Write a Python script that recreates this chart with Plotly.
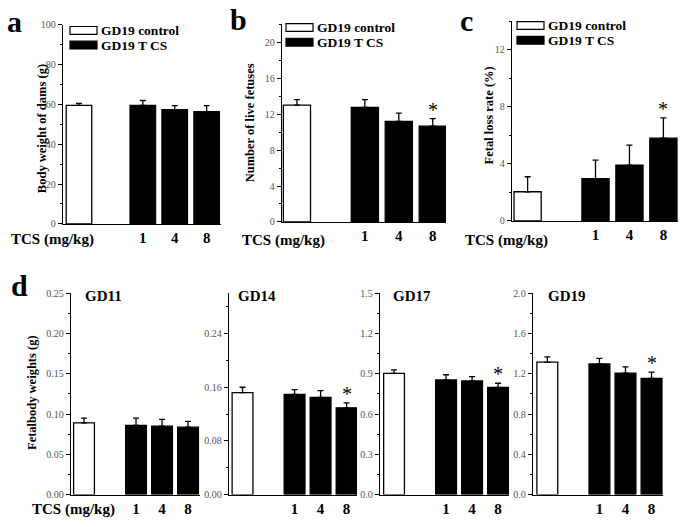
import plotly.graph_objects as go

W, H = 685, 527

# ---------------- data ----------------
dose_labels = ["1", "4", "8"]
control_pos = [0]
dose_pos = [2, 3, 4]

# a: body weight of dams (g)
a_ctrl, a_ctrl_err = [59.5], [1.0]
a_tcs, a_tcs_err = [59.5, 57.3, 56.3], [2.4, 2.0, 3.0]
# b: number of live fetuses
b_ctrl, b_ctrl_err = [13.0], [0.6]
b_tcs, b_tcs_err = [12.75, 11.2, 10.65], [0.85, 0.9, 0.85]
# c: fetal loss rate (%)
c_ctrl, c_ctrl_err = [2.05], [1.05]
c_tcs, c_tcs_err = [2.96, 3.92, 5.8], [1.3, 1.4, 1.42]
# d: fetal body weights (g)
gd11_ctrl, gd11_ctrl_err = [0.089], [0.006]
gd11_tcs, gd11_tcs_err = [0.086, 0.085, 0.0837], [0.009, 0.0085, 0.0073]
gd14_ctrl, gd14_ctrl_err = [0.152], [0.008]
gd14_tcs, gd14_tcs_err = [0.1493, 0.145, 0.1294], [0.0073, 0.010, 0.0073]
gd17_ctrl, gd17_ctrl_err = [0.903], [0.027]
gd17_tcs, gd17_tcs_err = [0.854, 0.847, 0.799], [0.039, 0.032, 0.031]
gd19_ctrl, gd19_ctrl_err = [1.317], [0.052]
gd19_tcs, gd19_tcs_err = [1.298, 1.207, 1.155], [0.055, 0.062, 0.062]

SERIF = "Liberation Serif"

panels = [
    dict(x0=63, x1=221, yt=19, yb=223, yr=[0, 100], dt=20, mn=10, fmt="d",
         ctrl=a_ctrl, ce=a_ctrl_err, tcs=a_tcs, te=a_tcs_err, star=False, xr=[-0.5, 4.45]),
    dict(x0=282, x1=446, yt=18.6, yb=221, yr=[0, 22], dt=4, mn=2, fmt="d",
         ctrl=b_ctrl, ce=b_ctrl_err, tcs=b_tcs, te=b_tcs_err, star=True, xr=[-0.44, 4.39]),
    dict(x0=512, x1=678, yt=15.5, yb=220, yr=[0, 14], dt=4, mn=2, fmt="d",
         ctrl=c_ctrl, ce=c_ctrl_err, tcs=c_tcs, te=c_tcs_err, star=True, xr=[-0.46, 4.43]),
    dict(x0=71, x1=200, yt=294, yb=500, yr=[0, 0.25], dt=0.05, mn=0.025, fmt=".2f",
         ctrl=gd11_ctrl, ce=gd11_ctrl_err, tcs=gd11_tcs, te=gd11_tcs_err, star=False, xr=[-0.5, 4.46]),
    dict(x0=229, x1=357, yt=294, yb=500, yr=[0, 0.30], dt=0.08, mn=0.04, fmt=".2f",
         ctrl=gd14_ctrl, ce=gd14_ctrl_err, tcs=gd14_tcs, te=gd14_tcs_err, star=True, xr=[-0.52, 4.4]),
    dict(x0=380, x1=509, yt=294, yb=500, yr=[0, 1.5], dt=0.3, mn=0.15, fmt=".1f",
         ctrl=gd17_ctrl, ce=gd17_ctrl_err, tcs=gd17_tcs, te=gd17_tcs_err, star=True, xr=[-0.54, 4.42]),
    dict(x0=533, x1=663, yt=294, yb=500, yr=[0, 2.0], dt=0.4, mn=0.2, fmt=".1f",
         ctrl=gd19_ctrl, ce=gd19_ctrl_err, tcs=gd19_tcs, te=gd19_tcs_err, star=True, xr=[-0.55, 4.44]),
]

fig = go.Figure()
layout = dict(width=W, height=H, margin=dict(l=0, r=0, t=0, b=0),
              paper_bgcolor="white", plot_bgcolor="white", showlegend=False)
annotations = []
shapes = []

for i, p in enumerate(panels):
    n = "" if i == 0 else str(i + 1)
    xa, ya = "x" + n, "y" + n
    err_style = dict(type="data", symmetric=False, color="black", thickness=1.3, width=3)
    fig.add_trace(go.Bar(x=control_pos, y=p["ctrl"], width=0.8, xaxis=xa, yaxis=ya,
                         marker=dict(color="white", line=dict(color="black", width=1.3)),
                         error_y=dict(array=p["ce"], arrayminus=[0], **err_style)))
    fig.add_trace(go.Bar(x=dose_pos, y=p["tcs"], width=0.8, xaxis=xa, yaxis=ya,
                         marker=dict(color="black", line=dict(color="black", width=1.3)),
                         error_y=dict(array=p["te"], arrayminus=[0, 0, 0], **err_style)))
    layout["xaxis" + n] = dict(
        domain=[p["x0"] / W, p["x1"] / W], anchor=ya, range=p["xr"],
        tickvals=dose_pos, ticktext=dose_labels, ticks="", showgrid=False, zeroline=False,
        showline=True, linecolor="black", linewidth=1.3,
        tickfont=dict(family=SERIF, size=15, color="black", weight="bold"))
    layout["yaxis" + n] = dict(
        domain=[1 - p["yb"] / H, 1 - p["yt"] / H], anchor=xa, range=p["yr"],
        dtick=p["dt"], tick0=0, tickformat=p["fmt"], ticks="outside", ticklen=4,
        tickwidth=1, tickcolor="black", showgrid=False, zeroline=False,
        showline=True, linecolor="black", linewidth=1.3,
        minor=dict(dtick=p["mn"], tick0=0, ticks="outside", ticklen=2, tickcolor="black", showgrid=False),
        tickfont=dict(family=SERIF, size=10, color="#555555"))
    if p["star"]:
        annotations.append(dict(x=dose_pos[2], y=p["tcs"][2] + p["te"][2], xref=xa, yref=ya,
                                text="*", showarrow=False, yanchor="bottom", yshift=-4,
                                font=dict(family=SERIF, size=20, color="black")))

# panel letters
for txt, x, y in [("a", 14, 16), ("b", 238, 14), ("c", 466, 15), ("d", 19, 286)]:
    annotations.append(dict(x=x / W, y=1 - y / H, xref="paper", yref="paper", text=txt,
                            showarrow=False, xanchor="center", yanchor="middle",
                            font=dict(family=SERIF, size=30, color="black", weight="bold")))

# y-axis titles
for txt, x, y in [("Body weight of dams (g)", 42, 126), ("Number of live fetuses", 250, 120),
                  ("Fetal loss rate (%)", 489, 112), ("Fetalbody weights (g)", 32, 395)]:
    annotations.append(dict(x=x / W, y=1 - y / H, xref="paper", yref="paper", text=txt,
                            showarrow=False, textangle=-90, xanchor="center", yanchor="middle",
                            font=dict(family=SERIF, size=12.5, color="black", weight="bold")))

# x labels
for x, y in [(52, 239), (283, 240), (506, 240), (73, 515)]:
    annotations.append(dict(x=x / W, y=1 - y / H, xref="paper", yref="paper", text="TCS (mg/kg)",
                            showarrow=False, xanchor="center", yanchor="middle",
                            font=dict(family=SERIF, size=15, color="black", weight="bold")))

# subplot titles in d
for txt, x in [("GD11", 103), ("GD14", 257), ("GD17", 412), ("GD19", 567)]:
    annotations.append(dict(x=x / W, y=1 - 297 / H, xref="paper", yref="paper", text=txt,
                            showarrow=False, xanchor="center", yanchor="middle",
                            font=dict(family=SERIF, size=15, color="black", weight="bold")))

# legends
for bx, by in [(70, 21), (286, 18), (517, 16)]:
    for k, (fill, label) in enumerate([("white", "GD19 control"), ("black", "GD19 T CS")]):
        y0 = by + k * 15
        shapes.append(dict(type="rect", xref="paper", yref="paper",
                           x0=bx / W, x1=(bx + 27) / W, y0=1 - (y0 + 8) / H, y1=1 - y0 / H,
                           fillcolor=fill, line=dict(color="black", width=1.2)))
        annotations.append(dict(x=(bx + 29) / W, y=1 - (y0 + 4) / H, xref="paper", yref="paper",
                                text=label, showarrow=False, xanchor="left", yanchor="middle",
                                font=dict(family=SERIF, size=13.5, color="black", weight="bold")))

layout["annotations"] = annotations
layout["shapes"] = shapes
fig.update_layout(**layout)
fig.write_html("out.html", config={"displayModeBar": False, "staticPlot": True},
               post_script="document.body.style.margin='0';document.body.style.overflow='hidden';")
